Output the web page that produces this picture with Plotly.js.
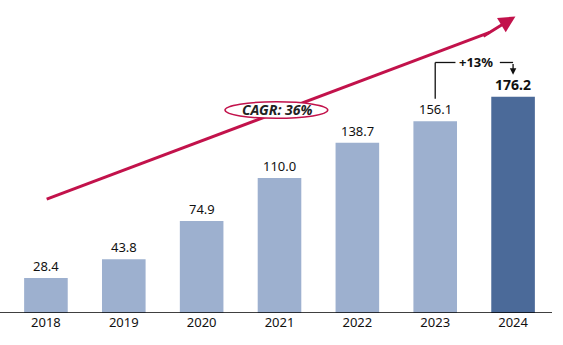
<!DOCTYPE html>
<html><head><meta charset="utf-8">
<script src="https://cdn.plot.ly/plotly-3.0.1.min.js"></script>
<style>html,body{margin:0;padding:0;background:#fff}</style>
</head><body><div id="chart" style="width:563px;height:345px"></div>
<script>
const years = ["2018","2019","2020","2021","2022","2023","2024"];
const values = [28.4, 43.8, 74.9, 110.0, 138.7, 156.1, 176.2];
const labels = ["28.4","43.8","74.9","110.0","138.7","156.1","176.2"];
const cagrText = "CAGR: 36%";
const growthText = "+13%";

const barColors = years.map((y,i)=> i===years.length-1 ? "#4B6A99" : "#9DB0CF");
const FONT = "Noto Sans, Open Sans, sans-serif";
const RED = "#C2124B";

const annotations = years.map((y,i)=>({
  x: i, y: values[i], xref:"x", yref:"y",
  text: i===years.length-1 ? "<b>"+labels[i]+"</b>" : labels[i],
  showarrow:false, yanchor:"bottom", yshift:1,
  font:{family:FONT, size:i===years.length-1?14:13, color:"#111"}
}));
// CAGR arrowhead (line itself is a shape so the ellipse can cover it)
annotations.push({x:6.03, y:241.5, ax:5.6, ay:224.6, axref:"x", ayref:"y", xref:"x", yref:"y",
  showarrow:true, arrowhead:2, arrowsize:1.1, arrowwidth:3, arrowcolor:RED, text:""});
annotations.push({x:2.98, y:165.5, xref:"x", yref:"y", text:"<b><i>"+cagrText+"</i></b>", showarrow:false,
  font:{family:FONT, size:14, color:"#222"}});
annotations.push({x:5.52, y:204, xref:"x", yref:"y", text:"<b>"+growthText+"</b>", showarrow:false,
  font:{family:FONT, size:13, color:"#111"}});
// bracket down-arrow
annotations.push({x:6.0, y:194, ax:6.0, ay:204, axref:"x", ayref:"y", xref:"x", yref:"y",
  showarrow:true, arrowhead:2, arrowsize:1, arrowwidth:1.3, arrowcolor:"#111", text:""});

const shapes = [
  {type:"line", xref:"x", yref:"y", x0:0.01, x1:5.7, y0:92.7, y1:228.5, line:{color:RED, width:3}, layer:"above"},
  {type:"circle", xref:"x", yref:"y", x0:2.30, x1:3.62, y0:158.5, y1:172.0,
   fillcolor:"#fff", line:{color:RED, width:1.5}, layer:"above"},
  {type:"line", xref:"x", yref:"y", x0:5.0, x1:5.0, y0:174.5, y1:204, line:{color:"#111", width:1.3}},
  {type:"line", xref:"x", yref:"y", x0:5.0, x1:5.26, y0:204, y1:204, line:{color:"#111", width:1.3}},
  {type:"line", xref:"x", yref:"y", x0:5.83, x1:6.0, y0:204, y1:204, line:{color:"#111", width:1.3}},
  {type:"line", xref:"paper", yref:"y", x0:-0.02, x1:1.0, y0:0, y1:0, line:{color:"#000", width:1.3}}
];

Plotly.newPlot("chart", [{
  type:"bar", x:years, y:values, marker:{color:barColors}, width:0.56, hoverinfo:"skip"
}], {
  width:563, height:345,
  margin:{l:7, r:11, t:6, b:32},
  paper_bgcolor:"#fff", plot_bgcolor:"#fff",
  showlegend:false,
  xaxis:{type:"category", range:[-0.5,6.5], showgrid:false, zeroline:false, showline:false,
    ticks:"", tickfont:{family:FONT, size:13, color:"#111"}},
  yaxis:{range:[0,250], visible:false, showgrid:false, zeroline:false},
  annotations, shapes
}, {staticPlot:true, displayModeBar:false});
</script></body></html>
